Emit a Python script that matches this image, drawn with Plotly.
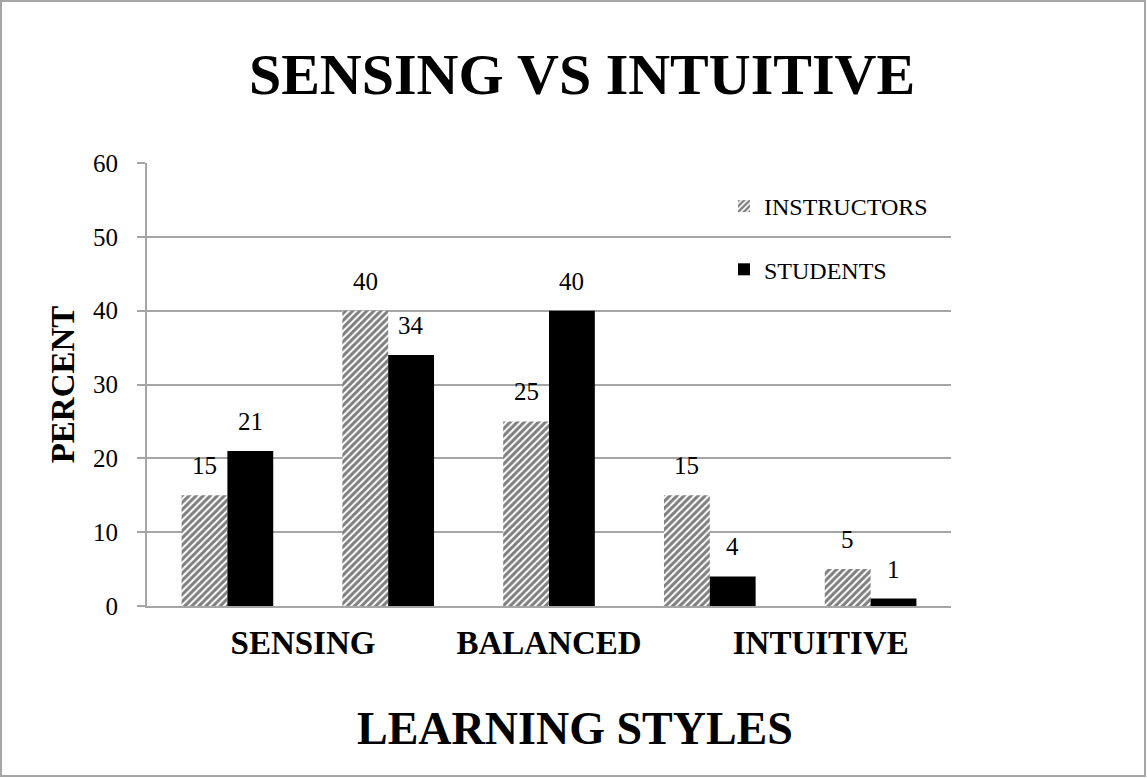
import plotly.graph_objects as go

positions = [0, 1, 2, 3, 4]
instructors = [15, 40, 25, 15, 5]
students = [21, 34, 40, 4, 1]
tick_positions = [0.47, 2, 3.69]
tick_labels = ["SENSING", "BALANCED", "INTUITIVE"]

FONT = "Liberation Serif"
GRAY = "#a6a6a6"
BARGAP = 0.43

fig = go.Figure()
fig.add_trace(go.Bar(
    x=positions, y=instructors, name="INSTRUCTORS",
    marker=dict(color="white", line=dict(width=0),
                pattern=dict(shape="/", fgcolor="black", bgcolor="white", size=5, solidity=0.6)),
    legendgroup="a",
))
fig.add_trace(go.Bar(
    x=positions, y=students, name="STUDENTS",
    marker=dict(color="black", line=dict(width=0)),
    legendgroup="b",
))

# value labels above bars (offset to each bar in the group)
half = (1 - BARGAP) / 4
annotations = []
for series, off in ((instructors, -half), (students, half)):
    for p, v in zip(positions, series):
        annotations.append(dict(x=p + off, y=v, text=str(v), showarrow=False,
                                xanchor="center", yanchor="bottom", yshift=14,
                                font=dict(family=FONT, size=25, color="black")))

L, R, T, B = 147, 196, 163, 172
W, H = 1147, 778
pw, ph = W - L - R, H - T - B

annotations.append(dict(text="<b>LEARNING STYLES</b>", xref="paper", yref="paper",
                        x=(575 - L) / pw, y=-(728 - (T + ph)) / ph,
                        xanchor="center", yanchor="middle", showarrow=False,
                        font=dict(family=FONT, size=46, color="black")))

fig.update_layout(
    width=W, height=H,
    margin=dict(l=L, r=R, t=T, b=B),
    paper_bgcolor="white", plot_bgcolor="white",
    barmode="group", bargap=BARGAP, bargroupgap=0,
    font=dict(family=FONT, color="black"),
    title=dict(text="<b>SENSING VS INTUITIVE</b>", x=582 / W, xanchor="center",
               y=1 - 74 / H, yanchor="middle",
               font=dict(family=FONT, size=58, color="black")),
    showlegend=True,
    legend=dict(x=(724 - L) / pw, y=1 - (184 - T) / ph, xanchor="left", yanchor="top",
                font=dict(family=FONT, size=24, color="black"),
                tracegroupgap=29, bgcolor="rgba(0,0,0,0)", itemwidth=30),
    xaxis=dict(range=[-0.5, 4.5], tickmode="array", tickvals=tick_positions,
               ticktext=["<b>%s</b>" % t for t in tick_labels],
               tickfont=dict(family=FONT, size=33, color="black"),
               showline=True, linecolor=GRAY, linewidth=2, showgrid=False,
               ticks="", ticklabelstandoff=6, zeroline=False),
    yaxis=dict(range=[0, 60], dtick=10, showgrid=True, gridcolor=GRAY, gridwidth=2,
               showline=True, linecolor=GRAY, linewidth=2,
               ticks="outside", ticklen=8, tickcolor=GRAY, tickwidth=2,
               tickfont=dict(family=FONT, size=25, color="black"),
               ticklabelstandoff=14, zeroline=False,
               title=dict(text="<b>PERCENT</b>", standoff=8,
                          font=dict(family=FONT, size=33, color="black"))),
    annotations=annotations,
    shapes=[dict(type="rect", xref="paper", yref="paper",
                 x0=(1 - L) / pw, x1=(W - 2 - L) / pw,
                 y0=-(H - 2 - T - ph) / ph, y1=1 + (T - 1) / ph,
                 line=dict(color=GRAY, width=2), fillcolor="rgba(0,0,0,0)", layer="below")],
)

fig.write_html("out.html", config={"displayModeBar": False},
               post_script="document.body.style.margin='0';document.body.style.overflow='hidden';")
